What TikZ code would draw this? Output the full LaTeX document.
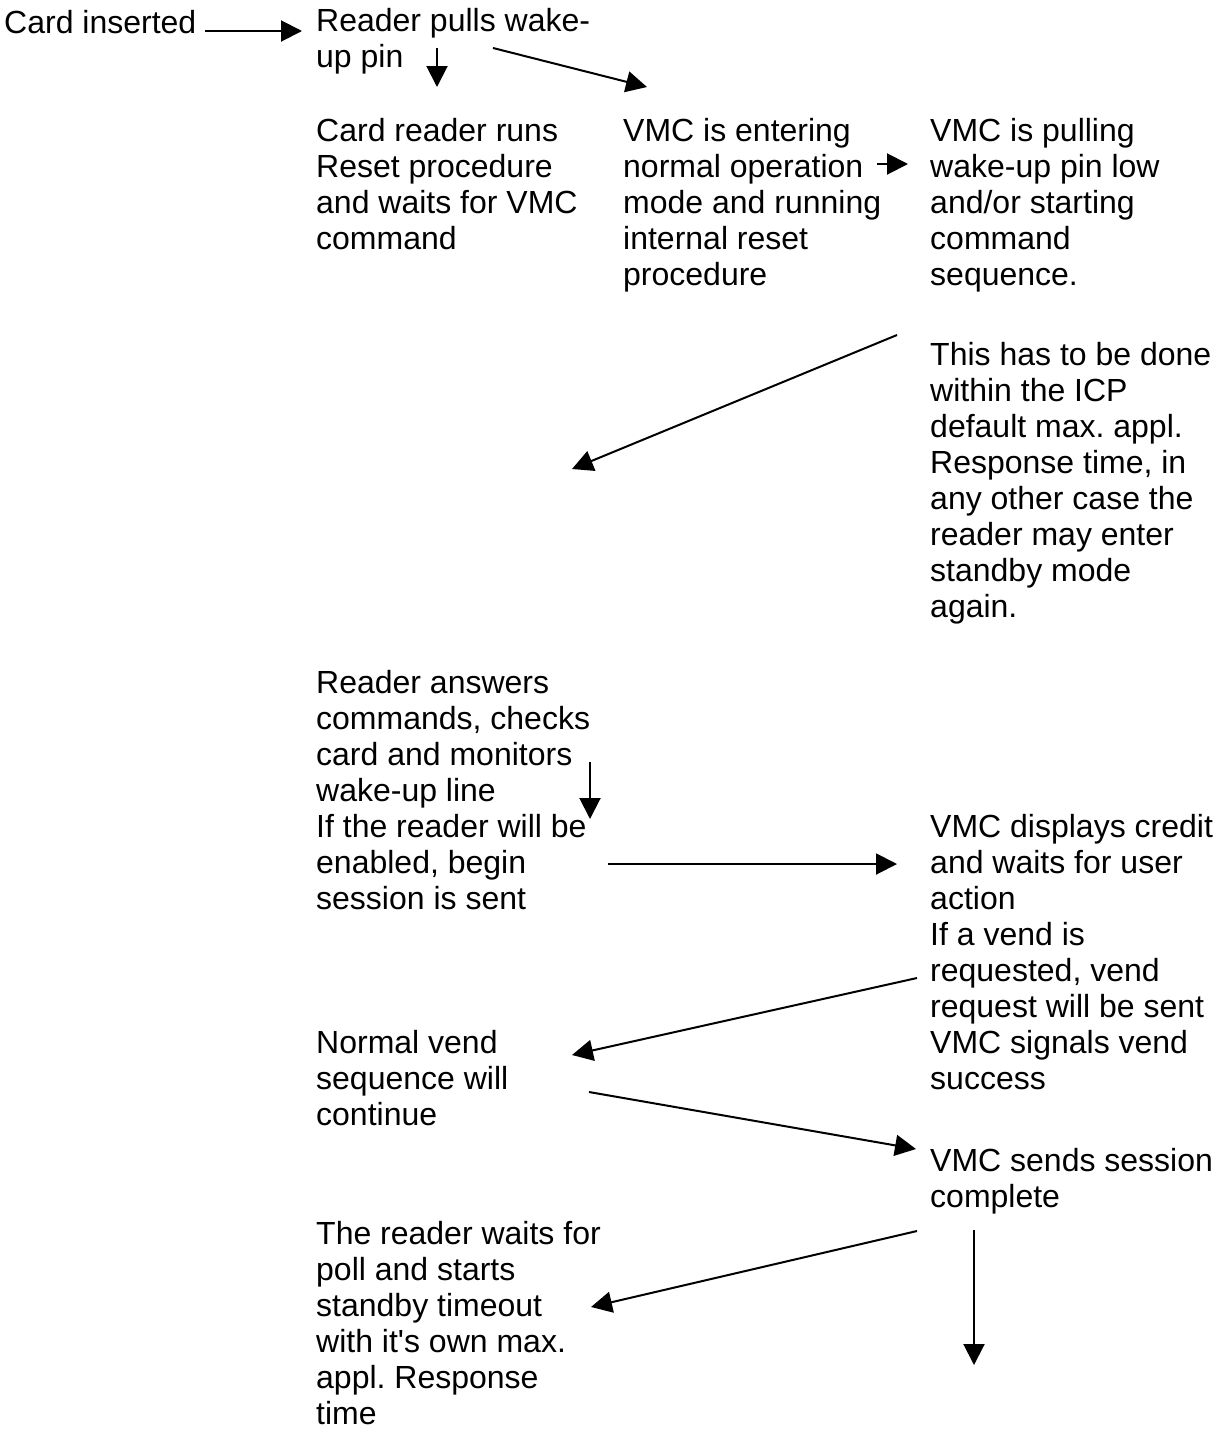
\documentclass[tikz,border=0pt]{standalone}
\usepackage{fontspec}
\setmainfont{Liberation Sans}[Ligatures=TeXOff]
\usetikzlibrary{arrows.meta}
\frenchspacing
\begin{document}
\begin{tikzpicture}[x=1pt,y=-1pt,
  txt/.style={anchor=north west, inner sep=0pt, align=left,
    font=\fontsize{32}{36}\selectfont\frenchspacing, execute at begin node=\strut},
  conn/.style={line width=2pt, -{Triangle[length=21pt,width=21pt]}}]
\useasboundingbox (0,0) rectangle (1222,1433);

\node[txt] (n1) at (4,8) {Card inserted};
\node[txt] (n2) at (316,8) {Reader pulls wake-\\up pin};
\node[txt] (n3) at (316,118) {Card reader runs\\Reset procedure\\and waits for VMC\\command};
\node[txt] (n4) at (623,118) {VMC is entering\\normal operation\\mode and running\\internal reset\\procedure};
\node[txt] (n5) at (930,118) {VMC is pulling\\wake-up pin low\\and/or starting\\command\\sequence.};
\node[txt] (n6) at (930,342) {This has to be done\\within the ICP\\default max. appl.\\Response time, in\\any other case the\\reader may enter\\standby mode\\again.};
\node[txt] (n7) at (316,670) {Reader answers\\commands, checks\\card and monitors\\wake-up line\\If the reader will be\\enabled, begin\\session is sent};
\node[txt] (n8) at (930,814) {VMC displays credit\\and waits for user\\action\\If a vend is\\requested, vend\\request will be sent\\VMC signals vend\\success};
\node[txt] (n9) at (316,1030) {Normal vend\\sequence will\\continue};
\node[txt] (n10) at (930,1148) {VMC sends session\\complete};
\node[txt] (n11) at (316,1221) {The reader waits for\\poll and starts\\standby timeout\\with it's own max.\\appl. Response\\time};

% connector end points
\coordinate (a1) at (205,31);  \coordinate (a2) at (302,31);
\coordinate (b1) at (437,48);  \coordinate (b2) at (437,87);
\coordinate (c1) at (493,48);  \coordinate (c2) at (647,87);
\coordinate (d1) at (877,164); \coordinate (d2) at (908,164);
\coordinate (e1) at (897,335); \coordinate (e2) at (572,469);
\coordinate (f1) at (590,762); \coordinate (f2) at (590,819);
\coordinate (g1) at (608,864); \coordinate (g2) at (897,864);
\coordinate (h1) at (917,978); \coordinate (h2) at (572,1055);
\coordinate (i1) at (589,1092); \coordinate (i2) at (916,1149);
\coordinate (j1) at (917,1231); \coordinate (j2) at (591,1307);
\coordinate (k1) at (974,1230); \coordinate (k2) at (974,1365);

\draw[conn] (a1) -- (a2);
\draw[conn] (b1) -- (b2);
\draw[conn] (c1) -- (c2);
\draw[conn] (d1) -- (d2);
\draw[conn] (e1) -- (e2);
\draw[conn] (f1) -- (f2);
\draw[conn] (g1) -- (g2);
\draw[conn] (h1) -- (h2);
\draw[conn] (i1) -- (i2);
\draw[conn] (j1) -- (j2);
\draw[conn] (k1) -- (k2);
\end{tikzpicture}
\end{document}
